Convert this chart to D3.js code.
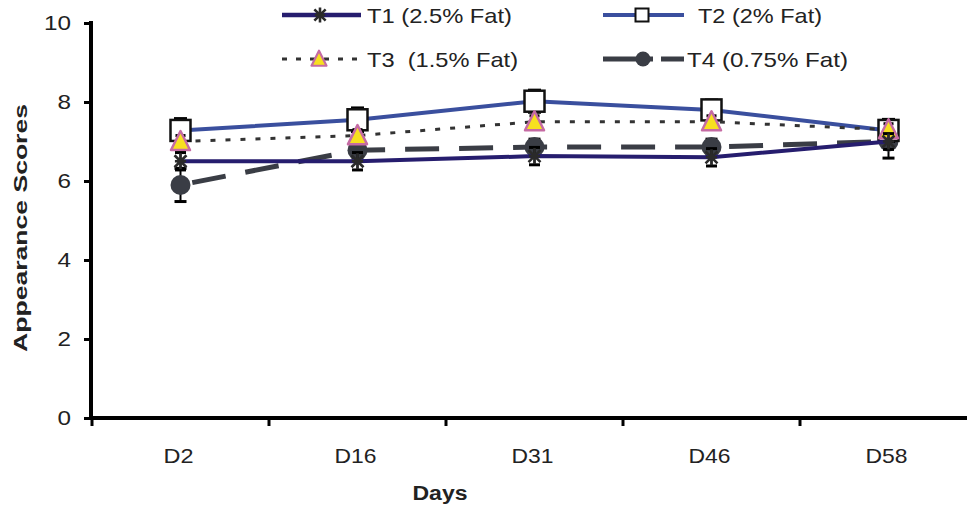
<!DOCTYPE html>
<html>
<head>
<meta charset="utf-8">
<script src="https://cdn.jsdelivr.net/npm/d3@7"></script>
<style>
  html, body { margin: 0; padding: 0; background: #fff; }
  svg { display: block; font-family: "Liberation Sans", Arial, sans-serif; }
</style>
</head>
<body>
<svg id="chart" width="967" height="507"></svg>
<script>
// ---------- data ----------
const days = ["D2", "D16", "D31", "D46", "D58"];
const yTicks = [0, 2, 4, 6, 8, 10];
const seriesNames = ["T1 (2.5% Fat)", "T2 (2% Fat)", "T3  (1.5% Fat)", "T4 (0.75% Fat)"];
const t1Values = [6.5, 6.5, 6.63, 6.6, 7.0];
const t1Errors = [0.22, 0.22, 0.22, 0.22, 0.2];
const t2Values = [7.28, 7.55, 8.02, 7.8, 7.28];
const t2Errors = [0.3, 0.3, 0.28, 0.25, 0.28];
const t3Values = [7.0, 7.15, 7.5, 7.5, 7.3];
const t3Errors = [0.15, 0.15, 0.15, 0.15, 0.15];
const t4Values = [5.9, 6.78, 6.86, 6.86, 7.0];
const t4Errors = [0.42, 0.2, 0.2, 0.2, 0.42];

const svg = d3.select("#chart");
const x = d3.scaleBand().domain(days).range([92, 977]).paddingInner(0).paddingOuter(0);
const y = d3.scaleLinear().domain([0, 10]).range([418, 23]);
const cx = d => x(d) + x.bandwidth() / 2;

// ---------- axes ----------
const yAxis = svg.append("g").attr("transform", "translate(91,0)")
  .call(d3.axisLeft(y).tickValues(yTicks).tickSize(7).tickPadding(13).tickFormat(d3.format("d")));
yAxis.select(".domain").attr("stroke", "#000").attr("stroke-width", 4).attr("d", `M0,${y(10)-2}V${y(0)}`);
yAxis.selectAll(".tick line").attr("stroke", "#000").attr("stroke-width", 3);
yAxis.selectAll(".tick text").attr("font-size", 21).attr("fill", "#222")
  .attr("font-family", "Liberation Sans, Arial, sans-serif")
  .each(function(d) { const s = String(d); d3.select(this).attr("textLength", s.length * 13.5).attr("lengthAdjust", "spacingAndGlyphs"); });

const xAxis = svg.append("g").attr("transform", "translate(0,418)");
xAxis.append("line").attr("x1", 89).attr("x2", 980).attr("y1", 0).attr("y2", 0)
  .attr("stroke", "#000").attr("stroke-width", 4);
xAxis.selectAll("line.tk").data(days.concat(["end"])).join("line").attr("class", "tk")
  .attr("x1", d => d === "end" ? x.range()[1] : x(d))
  .attr("x2", d => d === "end" ? x.range()[1] : x(d))
  .attr("y1", 0).attr("y2", 8).attr("stroke", "#000").attr("stroke-width", 3);
xAxis.selectAll("text").data(days).join("text")
  .attr("x", d => cx(d) - 2).attr("y", 45).attr("text-anchor", "middle")
  .attr("font-size", 21).attr("fill", "#222")
  .attr("textLength", d => d.length === 2 ? 30 : 42).attr("lengthAdjust", "spacingAndGlyphs")
  .text(d => d);

// axis titles
svg.append("text").attr("x", 440).attr("y", 500).attr("text-anchor", "middle")
  .attr("font-size", 20).attr("font-weight", "bold").attr("fill", "#222")
  .attr("textLength", 55).attr("lengthAdjust", "spacingAndGlyphs").text("Days");
svg.append("text").attr("transform", "translate(27,228) rotate(-90)").attr("text-anchor", "middle")
  .attr("font-size", 19).attr("font-weight", "bold").attr("fill", "#222")
  .attr("textLength", 248).attr("lengthAdjust", "spacingAndGlyphs").text("Appearance Scores");

// ---------- series ----------
const C1 = "#261d6e", C2 = "#3a4f9e", C3 = "#333333", C4 = "#3a3d45";
const line = d3.line().x((d, i) => cx(days[i])).y(d => y(d));

function errorBars(g, vals, errs, cap) {
  const eg = g.append("g");
  vals.forEach((v, i) => {
    const xx = cx(days[i]);
    eg.append("line").attr("x1", xx).attr("x2", xx).attr("y1", y(v + errs[i])).attr("y2", y(v - errs[i]))
      .attr("stroke", "#000").attr("stroke-width", 2);
    [v + errs[i], v - errs[i]].forEach(e => eg.append("line")
      .attr("x1", xx - cap / 2).attr("x2", xx + cap / 2).attr("y1", y(e)).attr("y2", y(e))
      .attr("stroke", "#000").attr("stroke-width", 3));
  });
}

function starPath(r) {
  const a = r * 0.75;
  return `M${-a},${-a}L${a},${a}M${-a},${a}L${a},${-a}M0,${-r}L0,${r}M${-r*0.7},0L${r*0.7},0`;
}
function triPath(s) {
  const h = s;
  return `M0,${-h*0.55}L${s/2},${h*0.45}L${-s/2},${h*0.45}Z`;
}

// T4 (bottom)
const g4 = svg.append("g");
errorBars(g4, t4Values, t4Errors, 12);
g4.append("path").datum(t4Values).attr("d", line).attr("fill", "none")
  .attr("stroke", C4).attr("stroke-width", 5).attr("stroke-dasharray", "34,20").attr("stroke-dashoffset", -12);
g4.selectAll("circle").data(t4Values).join("circle")
  .attr("cx", (d, i) => cx(days[i])).attr("cy", d => y(d)).attr("r", 10).attr("fill", C4);

// T2
const g2 = svg.append("g");
errorBars(g2, t2Values, t2Errors, 13);
g2.append("path").datum(t2Values).attr("d", line).attr("fill", "none")
  .attr("stroke", C2).attr("stroke-width", 4);
g2.selectAll("rect").data(t2Values).join("rect")
  .attr("x", (d, i) => cx(days[i]) - 10).attr("y", d => y(d) - 10.5)
  .attr("width", 20).attr("height", 21).attr("fill", "#fff").attr("stroke", "#111").attr("stroke-width", 2.5);

// T3
const g3 = svg.append("g");
errorBars(g3, t3Values, t3Errors, 10);
g3.append("path").datum(t3Values).attr("d", line).attr("fill", "none")
  .attr("stroke", C3).attr("stroke-width", 3).attr("stroke-dasharray", "5,10");
g3.selectAll("path.tri").data(t3Values).join("path").attr("class", "tri")
  .attr("transform", (d, i) => `translate(${cx(days[i])},${y(d)})`)
  .attr("d", triPath(19)).attr("fill", "#f7e01f").attr("stroke", "#c56ba3").attr("stroke-width", 2.5)
  .attr("stroke-linejoin", "round");

// T1 (top)
const g1 = svg.append("g");
errorBars(g1, t1Values, t1Errors, 11);
g1.append("path").datum(t1Values).attr("d", line).attr("fill", "none")
  .attr("stroke", C1).attr("stroke-width", 4);
g1.selectAll("path.star").data(t1Values).join("path").attr("class", "star")
  .attr("transform", (d, i) => `translate(${cx(days[i])},${y(d)})`)
  .attr("d", starPath(8)).attr("stroke", "#2a2a2a").attr("stroke-width", 2.6).attr("fill", "none");

// ---------- legend ----------
const lg = svg.append("g");
const legendRows = [
  { name: seriesNames[0], x1: 282, x2: 361, y: 15, mx: 320, tx: 367, tl: 145 },
  { name: seriesNames[1], x1: 603, x2: 684, y: 15, mx: 642, tx: 698, tl: 124 },
  { name: seriesNames[2], x1: 282, x2: 361, y: 59, mx: 319, tx: 367, tl: 151 },
  { name: seriesNames[3], x1: 603, x2: 684, y: 59, mx: 643, tx: 687, tl: 161 }
];
// T1
let r = legendRows[0];
lg.append("line").attr("x1", r.x1).attr("x2", r.x2).attr("y1", r.y).attr("y2", r.y).attr("stroke", C1).attr("stroke-width", 4.5);
lg.append("path").attr("transform", `translate(${r.mx},${r.y})`).attr("d", starPath(7.5)).attr("stroke", "#2a2a2a").attr("stroke-width", 2.6).attr("fill", "none");
// T2
r = legendRows[1];
lg.append("line").attr("x1", r.x1).attr("x2", r.x2).attr("y1", r.y).attr("y2", r.y).attr("stroke", C2).attr("stroke-width", 4);
lg.append("rect").attr("x", r.mx - 6.5).attr("y", r.y - 6.5).attr("width", 13).attr("height", 13).attr("fill", "#fff").attr("stroke", "#111").attr("stroke-width", 2);
// T3
r = legendRows[2];
lg.append("line").attr("x1", r.x1).attr("x2", r.x2).attr("y1", r.y).attr("y2", r.y).attr("stroke", C3).attr("stroke-width", 3).attr("stroke-dasharray", "5,9");
lg.append("path").attr("transform", `translate(${r.mx},${r.y})`).attr("d", triPath(15)).attr("fill", "#f7e01f").attr("stroke", "#c56ba3").attr("stroke-width", 2.2).attr("stroke-linejoin", "round");
// T4
r = legendRows[3];
lg.append("line").attr("x1", r.x1).attr("x2", r.x2).attr("y1", r.y).attr("y2", r.y).attr("stroke", C4).attr("stroke-width", 5).attr("stroke-dasharray", "50,8");
lg.append("circle").attr("cx", r.mx).attr("cy", r.y).attr("r", 7.5).attr("fill", C4);

lg.selectAll("text").data(legendRows).join("text")
  .attr("x", d => d.tx).attr("y", d => d.y + 7.5)
  .attr("font-size", 21).attr("fill", "#222")
  .attr("textLength", d => d.tl).attr("lengthAdjust", "spacingAndGlyphs")
  .attr("xml:space", "preserve").style("white-space", "pre")
  .text(d => d.name);
</script>
</body>
</html>
